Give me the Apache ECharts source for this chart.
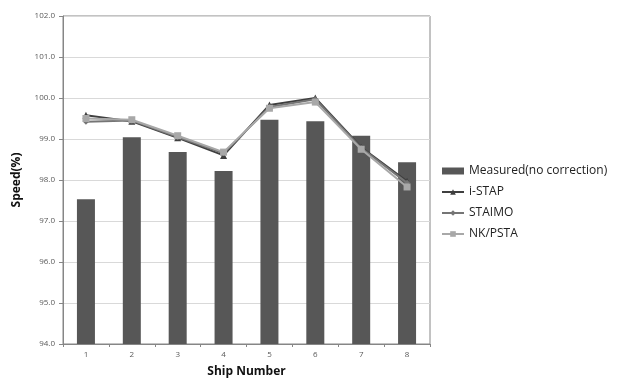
<!DOCTYPE html>
<html><head><meta charset="utf-8">
<script src="https://cdn.jsdelivr.net/npm/echarts@6/dist/echarts.min.js"></script>
<style>html,body{margin:0;padding:0;background:#fff}#c{width:617px;height:383px}</style>
</head><body><div id="c"></div>
<script>
const categories = ['1','2','3','4','5','6','7','8'];
const measured = [97.53, 99.04, 98.68, 98.22, 99.47, 99.43, 99.08, 98.43];
const iSTAP = [99.58, 99.43, 99.03, 98.60, 99.83, 100.00, 98.80, 97.97];
const staimo = [99.42, 99.45, 99.05, 98.65, 99.78, 99.97, 98.78, 97.93];
const nkpsta = [99.50, 99.47, 99.08, 98.68, 99.75, 99.90, 98.75, 97.83];
const seriesNames = ['Measured(no correction)', 'i-STAP', 'STAIMO', 'NK/PSTA'];

const chart = echarts.init(document.getElementById('c'));
chart.setOption({
  animation: false,
  backgroundColor: '#fff',
  grid: { left: 63, right: 187, top: 16, bottom: 36, show: true, borderColor: '#868686', borderWidth: 1 },
  legend: {
    orient: 'vertical', left: 441, top: 165, padding: 0, itemWidth: 22, itemHeight: 7, itemGap: 9,
    textStyle: { fontFamily: 'Open Sans', fontSize: 12, color: '#222' },
    data: [
      { name: seriesNames[0], icon: 'rect' },
      { name: seriesNames[1] },
      { name: seriesNames[2] },
      { name: seriesNames[3] }
    ]
  },
  xAxis: {
    type: 'category', data: categories,
    name: 'Ship Number', nameLocation: 'middle', nameGap: 22,
    nameTextStyle: { fontFamily: 'Open Sans', fontWeight: 'bold', fontSize: 12, color: '#111' },
    axisLine: { lineStyle: { color: '#868686' } },
    axisTick: { show: true, length: 3, lineStyle: { color: '#868686' } },
    axisLabel: { fontFamily: 'Open Sans', fontSize: 8, color: '#595959', margin: 7 }
  },
  yAxis: {
    type: 'value', min: 94, max: 102, interval: 1,
    name: 'Speed(%)', nameLocation: 'middle', nameGap: 40, nameRotate: 90,
    nameTextStyle: { fontFamily: 'Open Sans', fontWeight: 'bold', fontSize: 12, color: '#111' },
    axisLine: { show: true, lineStyle: { color: '#868686' } },
    axisTick: { show: true, length: 4, lineStyle: { color: '#868686' } },
    axisLabel: { fontFamily: 'Open Sans', fontSize: 8, color: '#595959', margin: 8, formatter: v => v.toFixed(1) },
    splitLine: { lineStyle: { color: '#d9d9d9', width: 1 } }
  },
  series: [
    { name: seriesNames[0], type: 'bar', data: measured, barWidth: 18,
      itemStyle: { color: '#575757' } },
    { name: seriesNames[1], type: 'line', data: iSTAP, symbol: 'triangle', symbolSize: 7,
      lineStyle: { color: '#3f3f3f', width: 2 }, itemStyle: { color: '#3f3f3f' }, z: 3 },
    { name: seriesNames[2], type: 'line', data: staimo, symbol: 'diamond', symbolSize: 6,
      lineStyle: { color: '#757575', width: 2 }, itemStyle: { color: '#757575' }, z: 4 },
    { name: seriesNames[3], type: 'line', data: nkpsta, symbol: 'rect', symbolSize: 7,
      lineStyle: { color: '#a8a8a8', width: 2 }, itemStyle: { color: '#a8a8a8' }, z: 5 }
  ]
});
</script>
</body></html>
